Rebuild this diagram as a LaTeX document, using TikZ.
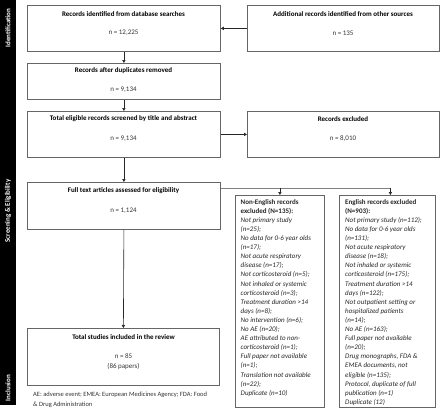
\documentclass[tikz,border=0pt]{standalone}
\usepackage{fontspec}
\setmainfont{Carlito}
\usetikzlibrary{arrows.meta}
\begin{document}
\begin{tikzpicture}[x=1pt,y=-1pt,
  box/.style={draw=black!60,line width=0.8pt,rectangle,inner sep=0pt,anchor=north west},
  ttl/.style={font=\fontsize{7}{8.5}\selectfont\bfseries,inner sep=0pt,text=black},
  num/.style={font=\fontsize{7}{10}\selectfont,inner sep=0pt,text=black!80,align=center},
  lst/.style={font=\fontsize{7}{9.1}\selectfont,inner sep=0pt,anchor=north west,align=left,text=black!85},
  side/.style={font=\fontsize{7}{8}\selectfont\bfseries,text=white,rotate=90,inner sep=0pt},
  arr/.style={draw=black!85,line width=0.6pt,-{Triangle[length=3pt,width=3.2pt]}},
  ln/.style={draw=black!50,line width=0.6pt}]
\useasboundingbox (0,0) rectangle (440,415);
% sidebar
\fill[black] (0,0) rectangle (16,405);
\node[side] (sid) at (8,28) {Identification};
\node[side] (sscr) at (8,211) {Screening \& Eligibility};
\node[side] (sinc) at (8,388) {Inclusion};
% main boxes
\node[box,minimum width=193pt,minimum height=46pt] (b1) at (27,5) {};
\node[ttl] (b1t) at (123.5,14) {Records identified from database searches};
\node[num] (b1n) at (123.5,33) {n = 12,225};
\node[box,minimum width=192pt,minimum height=46pt] (r1) at (247,5) {};
\node[ttl] (r1t) at (343,14) {Additional records identified from other sources};
\node[num] (r1n) at (343,33) {n = 135};
\node[box,minimum width=193pt,minimum height=36pt] (b2) at (27,63) {};
\node[ttl] (b2t) at (123.5,71) {Records after duplicates removed};
\node[num] (b2n) at (123.5,90) {n = 9,134};
\node[box,minimum width=193pt,minimum height=46pt] (b3) at (27,111) {};
\node[ttl] (b3t) at (123.5,119) {Total eligible records screened by title and abstract};
\node[num] (b3n) at (123.5,139) {n = 9,134};
\node[box,minimum width=192pt,minimum height=46pt] (r2) at (247,111) {};
\node[ttl] (r2t) at (343,119) {Records excluded};
\node[num] (r2n) at (343,139) {n = 8,010};
\node[box,minimum width=193pt,minimum height=47pt] (b4) at (27,182) {};
\node[ttl] (b4t) at (123.5,191) {Full text articles assessed for eligibility};
\node[num] (b4n) at (123.5,211) {n = 1,124};
\node[box,minimum width=192pt,minimum height=57pt] (b5) at (27,328) {};
\node[ttl] (b5t) at (123.5,337) {Total studies included in the review};
\node[num] (b5n) at (123.5,362) {n = 85\\(86 papers)};
% exclusion boxes
\node[box,minimum width=89pt,minimum height=212pt] (ne) at (235,195) {};
\node[lst] (net) at (240.5,199) {\textbf{Non-English records}\\\textbf{excluded (N=135):}\\
\textit{Not primary study}\\\textit{(n=25);}\\\textit{No data for 0-6 year olds}\\\textit{(n=17);}\\
\textit{Not acute respiratory}\\\textit{disease (n=17);}\\\textit{Not corticosteroid (n=5);}\\
\textit{Not inhaled or systemic}\\\textit{corticosteroid (n=3);}\\\textit{Treatment duration >14}\\
\textit{days (n=8);}\\\textit{No intervention (n=6);}\\\textit{No AE (n=20);}\\
\textit{AE attributed to non-}\\\textit{corticosteroid (n=1);}\\\textit{Full paper not available}\\
\textit{(n=1);}\\\textit{Translation not available}\\\textit{(n=22);}\\\textit{Duplicate (n=10)}};
\node[box,minimum width=96pt,minimum height=212pt] (en) at (339,195) {};
\node[lst] (ent) at (345,199) {\textbf{English records excluded}\\\textbf{(N=903):}\\
\textit{Not primary study (n=112);}\\\textit{No data for 0-6 year olds}\\\textit{(n=131);}\\
\textit{Not acute respiratory}\\\textit{disease (n=18);}\\\textit{Not inhaled or systemic}\\
\textit{corticosteroid (n=175);}\\\textit{Treatment duration >14}\\\textit{days (n=122);}\\
\textit{Not outpatient setting or}\\\textit{hospitalized patients}\\\textit{(n=14);}\\
\textit{No AE (n=163);}\\\textit{Full paper not available}\\\textit{(n=20);}\\
\textit{Drug monographs, FDA \&}\\\textit{EMEA documents, not}\\\textit{eligible (n=135);}\\
\textit{Protocol, duplicate of full}\\\textit{publication (n=1)}\\\textit{Duplicate (12)}};
% footnote
\node[font=\fontsize{6.5}{10}\selectfont,inner sep=0pt,anchor=north west,align=left,text=black!80] (fn) at (33,392)
 {AE: adverse event; EMEA: European Medicines Agency; FDA: Food\\\& Drug Administration};
% connectors
\draw[arr] (b1.south) -- (b2.north);
\draw[arr] (r1.west) -- (b1.east);
\draw[arr] (b2.south) -- (b3.north);
\draw[arr] (b3.east) -- (r2.west);
\draw[arr] (b3.south) -- (b4.north);
\draw[arr] (b4.south) -- (b5.north);
\coordinate (br) at ([yshift=-6pt]b4.north east);
\coordinate (enc) at ([xshift=3pt]en.north);
\draw[ln] (br) -- (enc |- br);
\draw[arr] (ne.north |- br) -- (ne.north);
\draw[arr] (enc |- br) -- (enc);
\end{tikzpicture}
\end{document}
